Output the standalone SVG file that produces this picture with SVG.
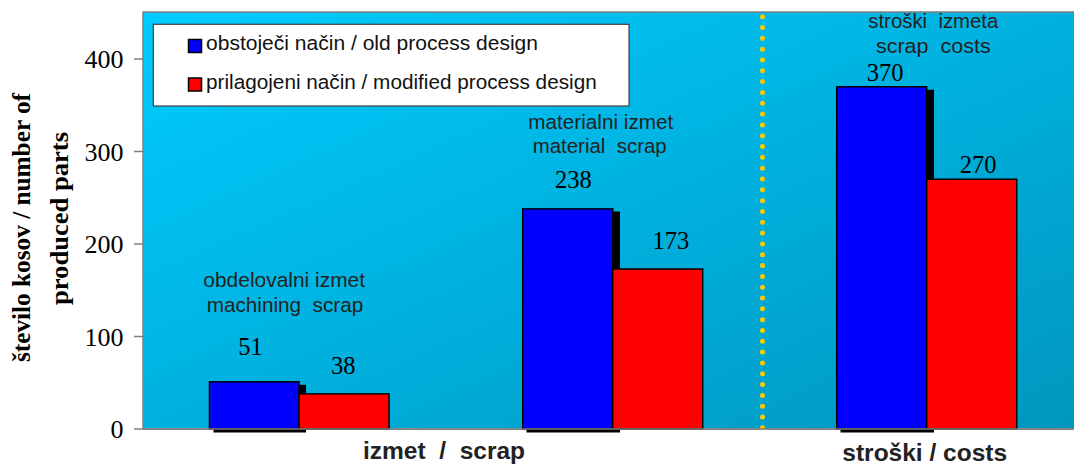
<svg xmlns="http://www.w3.org/2000/svg" width="1074" height="467" viewBox="0 0 1074 467">
  <defs>
    <linearGradient id="plotBg" x1="0" y1="0" x2="1" y2="1">
      <stop offset="0" stop-color="#00CCFF"/>
      <stop offset="1" stop-color="#0096BE"/>
    </linearGradient>
  </defs>
  <style>
    .tick { font-family: "Liberation Serif", "Times New Roman", serif; font-size: 26px; fill: #000; text-anchor: end; }
    .val { font-family: "Liberation Serif", "Times New Roman", serif; font-size: 24.5px; fill: #000; text-anchor: middle; }
    .ytitle { font-family: "Liberation Serif", "Times New Roman", serif; font-size: 25px; font-weight: bold; fill: #000; text-anchor: middle; }
    .note { font-family: "Liberation Sans", Arial, sans-serif; font-size: 20.5px; fill: #222; text-anchor: middle; white-space: pre; }
    .cat { font-family: "Liberation Sans", Arial, sans-serif; font-size: 24.5px; font-weight: bold; fill: #222; text-anchor: middle; white-space: pre; }
    .leg { font-family: "Liberation Sans", Arial, sans-serif; font-size: 20.5px; fill: #111; }
    .old { fill: #0000FF; stroke: #000; stroke-width: 1.5; }
    .new { fill: #FF0000; stroke: #000; stroke-width: 1.5; }
    .shadow { fill: #000; }
    .axis { stroke: #808080; stroke-width: 1.5; fill: none; }
  </style>

  <rect width="1074" height="467" fill="#FFFFFF"/>

  <!-- plot area -->
  <g id="plot-area">
    <rect x="143" y="12" width="933" height="417" fill="url(#plotBg)" stroke="#808080" stroke-width="1.5"/>
  </g>

  <!-- value axis -->
  <g id="y-axis">
    <path class="axis" d="M134 429H143M134 336.5H143M134 244H143M134 151.5H143M134 59H143"/>
    <text class="tick" x="123.5" y="438">0</text>
    <text class="tick" x="123.5" y="345.5">100</text>
    <text class="tick" x="123.5" y="253">200</text>
    <text class="tick" x="123.5" y="160.5">300</text>
    <text class="tick" x="123.5" y="68">400</text>
    <text class="ytitle" transform="translate(30,227.5) rotate(-90)" textLength="269" lengthAdjust="spacingAndGlyphs">število kosov / number of</text>
    <text class="ytitle" transform="translate(68,218.5) rotate(-90)" textLength="173" lengthAdjust="spacingAndGlyphs">produced parts</text>
  </g>

  <!-- divider between scrap and costs -->
  <g id="divider">
    <path d="M762.5 16.7V428" stroke="#FFCC00" stroke-width="5" stroke-linecap="round" stroke-dasharray="0 10.82" fill="none"/>
  </g>

  <!-- machining scrap -->
  <g id="machining-scrap">
    <rect class="shadow" x="213.5" y="384.8" width="92.5" height="47.7"/>
    <rect class="old" x="209.5" y="381.8" width="89.5" height="47.2"/>
    <rect class="new" x="299" y="393.9" width="90" height="35.1"/>
    <text class="val" x="250.5" y="355">51</text>
    <text class="val" x="343.3" y="374">38</text>
    <text class="note" x="284.2" y="287.3" textLength="161.7" lengthAdjust="spacingAndGlyphs">obdelovalni izmet</text>
    <text class="note" x="285" y="311.7" textLength="156.6" lengthAdjust="spacingAndGlyphs">machining  scrap</text>
  </g>

  <!-- material scrap -->
  <g id="material-scrap">
    <rect class="shadow" x="526.5" y="211.5" width="93.5" height="221"/>
    <rect class="old" x="522.7" y="208.9" width="90" height="220.1"/>
    <rect class="new" x="612.7" y="269" width="90" height="160"/>
    <text class="val" x="573.3" y="188.3">238</text>
    <text class="val" x="670.8" y="249">173</text>
    <text class="note" x="600.8" y="129.3" textLength="145" lengthAdjust="spacingAndGlyphs">materialni izmet</text>
    <text class="note" x="599.7" y="152.7" textLength="134" lengthAdjust="spacingAndGlyphs">material  scrap</text>
  </g>

  <!-- scrap costs -->
  <g id="scrap-costs">
    <rect class="shadow" x="840.5" y="89.7" width="93.5" height="342.8"/>
    <rect class="old" x="836.7" y="86.75" width="90" height="342.25"/>
    <rect class="new" x="926.7" y="179.25" width="90" height="249.75"/>
    <text class="val" x="885" y="81">370</text>
    <text class="val" x="978" y="172.7">270</text>
    <text class="note" x="933.3" y="28.3" textLength="130" lengthAdjust="spacingAndGlyphs">stroški  izmeta</text>
    <text class="note" x="933.3" y="52.7" textLength="114.7" lengthAdjust="spacingAndGlyphs">scrap  costs</text>
  </g>

  <!-- baseline of the plot -->
  <g id="x-axis">
    <path class="axis" d="M143 429H1074"/>
    <text class="cat" x="444" y="458.5">izmet  /  scrap</text>
    <text class="cat" x="924.7" y="461">stroški / costs</text>
  </g>

  <!-- legend -->
  <g id="legend">
    <rect x="153.3" y="24.3" width="475.7" height="81.7" fill="#FFFFFF" stroke="#404040" stroke-width="1.2"/>
    <rect class="old" x="188.5" y="39.5" width="13" height="13" stroke-width="1"/>
    <text class="leg" x="206" y="50" textLength="332" lengthAdjust="spacingAndGlyphs">obstoječi način / old process design</text>
    <rect class="new" x="188.5" y="78" width="13" height="13" stroke-width="1"/>
    <text class="leg" x="206" y="89.3" textLength="390.7" lengthAdjust="spacingAndGlyphs">prilagojeni način / modified process design</text>
  </g>
</svg>
